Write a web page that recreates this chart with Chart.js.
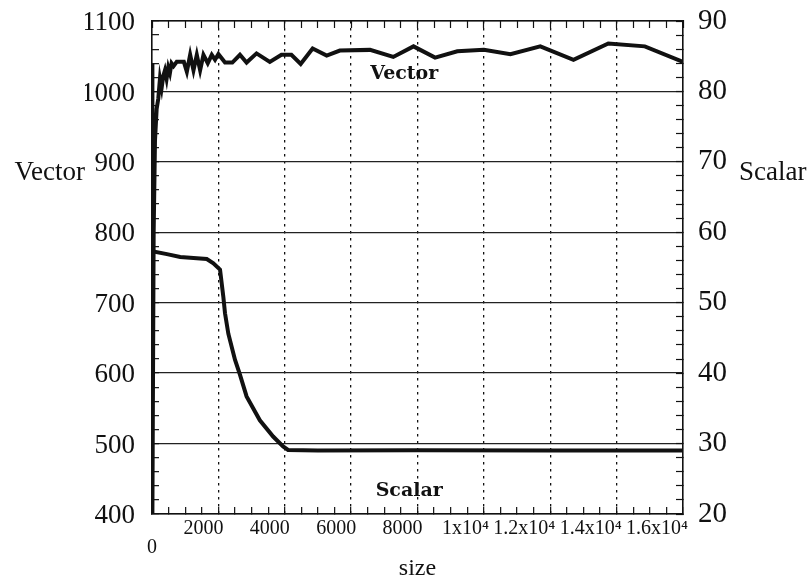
<!DOCTYPE html>
<html>
<head>
<meta charset="utf-8">
<script src="https://cdn.jsdelivr.net/npm/chart.js@4.4.1/dist/chart.umd.min.js"></script>
<style>
  html, body { margin: 0; padding: 0; background: #fff; }
  #wrap { width: 808px; height: 581px; position: relative; }
</style>
</head>
<body>
<div id="wrap"><canvas id="myChart"></canvas></div>
<script>
// values
const vectorSize  = [0, 12, 50, 90, 140, 190, 240, 290, 340, 390, 440, 490, 540, 590, 650, 745, 843, 960, 1050, 1150, 1250, 1350, 1450, 1550, 1680, 1800, 1900, 2000, 2200, 2420, 2650, 2850, 3150, 3550, 3900, 4200, 4480, 4840, 5263, 5660, 6570, 7270, 7880, 8530, 9200, 10000, 10800, 11700, 12700, 13750, 14850, 16000];
const vectorValue = [1040, 400, 800, 930, 975, 990, 1018, 1005, 1022, 1030, 1018, 1034, 1026, 1040, 1036, 1042, 1042, 1042, 1028, 1052, 1030, 1052, 1030, 1052, 1040, 1052, 1045, 1053, 1041, 1041, 1052, 1041, 1054, 1042, 1052, 1052, 1039, 1061, 1051, 1058, 1059, 1049, 1064, 1048, 1057, 1059, 1053, 1064, 1045, 1068, 1064, 1042];

const scalarSize  = [0, 450, 850, 1250, 1650, 1850, 2050, 2150, 2200, 2300, 2500, 2650, 2850, 3250, 3650, 3950, 4100, 5000, 8000, 12000, 16000];
const scalarValue = [57.3, 56.9, 56.5, 56.35, 56.2, 55.6, 54.7, 50.8, 48.5, 45.6, 41.9, 39.8, 36.7, 33.3, 31.0, 29.6, 29.1, 29.0, 29.05, 29.0, 29.0];

const xTickValues = [0, 2000, 4000, 6000, 8000, 10000, 12000, 14000, 16000];
const xTickLabels = [['', '0'], '2000', '4000', '6000', '8000', '1x10\u2074', '1.2x10\u2074', '1.4x10\u2074', '1.6x10\u2074'];
const vectorTicks = [400, 500, 600, 700, 800, 900, 1000, 1100];
const scalarTicks = [20, 30, 40, 50, 60, 70, 80, 90];

const INK = '#111';
const SERIF = 'Liberation Serif';

function toPoints(xs, ys) {
    return xs.map((x, i) => ({ x: x, y: ys[i] }));
}

// fixed box sizes so the plot frame sits where it does in the original
function fitBox(size) {
    return (scale) => {
        scale.paddingTop = 0;
        scale.paddingBottom = 0;
        scale.paddingLeft = 0;
        scale.paddingRight = 0;
        if (scale.isHorizontal()) scale.height = size;
        else scale.width = size;
    };
}

const textLabels = {
    id: 'textLabels',
    afterDraw(chart) {
        const ctx = chart.ctx;
        const x = chart.scales.x, y = chart.scales.y, y2 = chart.scales.y2;
        ctx.save();
        ctx.fillStyle = INK;
        ctx.textBaseline = 'middle';
        // side titles, written horizontally
        ctx.font = '27px "' + SERIF + '"';
        ctx.textAlign = 'right';
        ctx.fillText('Vector', y.left, y.getPixelForValue(885));
        ctx.textAlign = 'left';
        ctx.fillText('Scalar', y2.right + 13, y.getPixelForValue(885));
        // curve names inside the plot
        ctx.font = 'bold 19px "DejaVu Serif"';
        ctx.textAlign = 'center';
        ctx.fillText('Vector', x.getPixelForValue(7600), y.getPixelForValue(1024));
        ctx.fillText('Scalar', x.getPixelForValue(7750), y2.getPixelForValue(23.2));
        ctx.restore();
    }
};

const ctx = document.getElementById('myChart');

new Chart(ctx, {
    type: 'line',
    data: {
        datasets: [{
            label: 'Vector',
            data: toPoints(vectorSize, vectorValue),
            xAxisID: 'x',
            yAxisID: 'y',
            borderColor: INK,
            borderWidth: 4,
            pointRadius: 0,
            tension: 0
        }, {
            label: 'Scalar',
            data: toPoints(scalarSize, scalarValue),
            xAxisID: 'x',
            yAxisID: 'y2',
            borderColor: INK,
            borderWidth: 4,
            pointRadius: 0,
            tension: 0
        }]
    },
    options: {
        responsive: true,
        maintainAspectRatio: false,
        animation: false,
        layout: { padding: { left: 85, right: 82, top: 18, bottom: 0 } },
        plugins: {
            legend: { display: false },
            tooltip: { enabled: false }
        },
        scales: {
            x: {
                type: 'linear',
                position: 'bottom',
                min: 0,
                max: 16000,
                afterFit: fitBox(67),
                ticks: {
                    stepSize: 500,
                    maxTicksLimit: 1000,
                    autoSkip: false,
                    maxRotation: 0,
                    minRotation: 0,
                    align: 'end',
                    labelOffset: 5,
                    padding: 12,
                    color: INK,
                    font: { family: SERIF, size: 20, lineHeight: 0.95 },
                    callback: (v) => {
                        const i = xTickValues.indexOf(v);
                        return i >= 0 ? xTickLabels[i] : '';
                    }
                },
                grid: {
                    color: (c) => {
                        const v = c.tick ? c.tick.value : 0;
                        return (v % 2000 === 0 && v > 0 && v < 16000) ? INK : 'transparent';
                    },
                    lineWidth: 1.3,
                    tickLength: -7,
                    tickColor: INK,
                    tickWidth: 1.2
                },
                border: { display: true, color: INK, width: 1.6, dash: [2.5, 4.5] },
                title: {
                    display: true,
                    text: 'size',
                    color: INK,
                    font: { family: SERIF, size: 24, lineHeight: 1 },
                    padding: { top: 1, bottom: 0 }
                }
            },
            xTop: {
                type: 'linear',
                position: 'top',
                min: 0,
                max: 16000,
                afterFit: fitBox(3),
                ticks: { display: false, stepSize: 500, maxTicksLimit: 1000 },
                grid: { drawOnChartArea: false, tickLength: -7, tickColor: INK, tickWidth: 1.2 },
                border: { display: true, color: INK, width: 1.6 },
                title: { display: true, text: '', font: { size: 10, lineHeight: 1 }, padding: 0 }
            },
            y: {
                type: 'linear',
                position: 'left',
                min: 400,
                max: 1100,
                afterFit: fitBox(67),
                ticks: {
                    stepSize: 20,
                    maxTicksLimit: 1000,
                    autoSkip: false,
                    padding: 24,
                    labelOffset: 2,
                    color: INK,
                    font: { family: SERIF, size: 27 },
                    callback: (v) => vectorTicks.includes(v) ? String(v) : ''
                },
                grid: {
                    color: (c) => (c.tick && vectorTicks.includes(c.tick.value)) ? '#222' : 'transparent',
                    lineWidth: 1.3,
                    tickLength: -7,
                    tickColor: INK,
                    tickWidth: 1.2
                },
                border: { display: true, color: INK, width: 1.6 }
            },
            y2: {
                type: 'linear',
                position: 'right',
                min: 20,
                max: 90,
                afterFit: fitBox(43),
                ticks: {
                    stepSize: 2,
                    maxTicksLimit: 1000,
                    autoSkip: false,
                    padding: 22,
                    color: INK,
                    font: { family: SERIF, size: 29 },
                    callback: (v) => scalarTicks.includes(v) ? String(v) : ''
                },
                grid: { drawOnChartArea: false, tickLength: -7, tickColor: INK, tickWidth: 1.2 },
                border: { display: true, color: INK, width: 1.6 }
            }
        }
    },
    plugins: [textLabels]
});
</script>
</body>
</html>
